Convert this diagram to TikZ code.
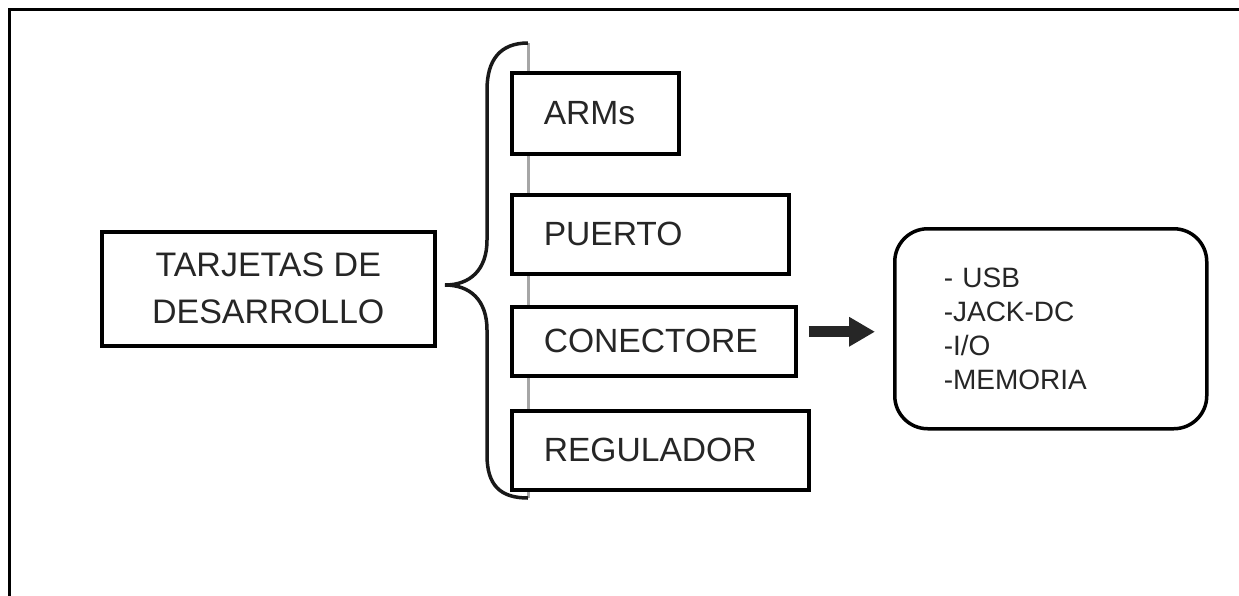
\documentclass[tikz,border=0pt]{standalone}
\usepackage{fontspec}
\setmainfont{Liberation Sans}
\usetikzlibrary{arrows.meta,calc}

\tikzset{
  box/.style={draw=black, line width=3.5pt, fill=white, anchor=north west,
    inner xsep=32pt, inner ysep=0pt, align=left, text=black!85,
    font=\fontsize{33.6}{40}\selectfont},
  mainbox/.style={draw=black, line width=3.5pt, fill=white, anchor=north west,
    inner sep=0pt, align=center, text=black!85,
    font=\fontsize{34}{47}\selectfont},
  infobox/.style={draw=black, line width=3.5pt, fill=white, anchor=north west,
    rounded corners=33pt, inner xsep=49pt, inner ysep=0pt, align=left,
    text=black!85, font=\fontsize{28}{34}\selectfont},
  brace/.style={draw=black!90, line width=3.5pt},
  guide/.style={draw=black!35, line width=3pt},
  frame/.style={draw=black, line width=3pt},
  fatarrow/.style={draw=black!85, line width=11pt,
    -{Triangle[length=26pt,width=28pt]}}
}

\begin{document}
\begin{tikzpicture}[x=1pt,y=-1pt]
  \useasboundingbox (0,0) rectangle (1239,595);

  % page frame (top and left edges)
  \draw[frame] (9,600) -- (9,9) -- (1245,9);

  % vertical guide behind the component boxes
  \draw[guide] (528,43) -- (528,498);

  % curly brace
  \draw[brace] (528,43) .. controls (500,43) and (487,60) .. (487,90)
    -- (487,240) .. controls (487,270) and (470,285) .. (445,285)
    .. controls (470,285) and (487,300) .. (487,330)
    -- (487,455) .. controls (487,485) and (500,498) .. (528,498);

  % main box
  \node[mainbox, minimum width=333pt, minimum height=114pt] (tarj) at (100,230)
    {TARJETAS DE\\DESARROLLO};

  % component boxes
  \node[box, text width=103pt, minimum height=81pt] (arms) at (510,71) {ARMs};
  \node[box, text width=213pt, minimum height=79pt] (puerto) at (510,193) {PUERTO};
  \node[box, text width=220pt, minimum height=69pt] (conn) at (510,305) {CONECTORE};
  \node[box, text width=233pt, minimum height=79pt] (reg) at (510,409) {REGULADOR};

  % connector details
  \node[infobox, text width=214pt, minimum height=200pt] (info) at (893,227)
    {- USB\\-JACK-DC\\-I/O\\-MEMORIA};

  % arrow to the details box
  \draw[fatarrow] ($(conn.east |- info.west)+(11,3)$) -- ($(info.west)+(-18,3)$);
\end{tikzpicture}
\end{document}
